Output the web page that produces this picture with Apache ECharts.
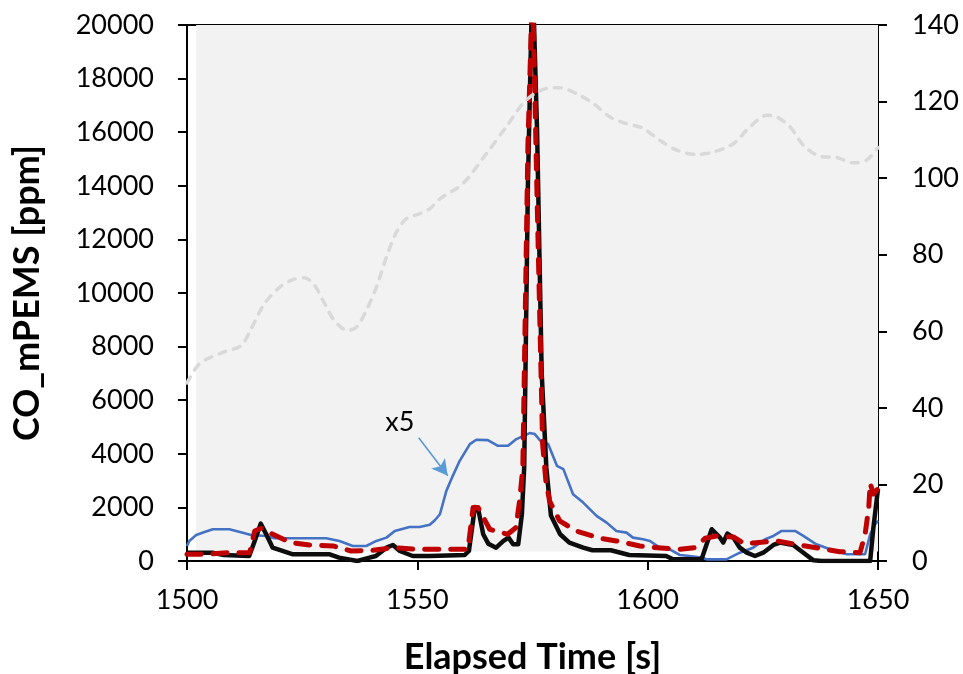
<!DOCTYPE html>
<html>
<head>
<meta charset="utf-8">
<script src="https://cdn.jsdelivr.net/npm/echarts@6/dist/echarts.min.js"></script>
<style>html,body{margin:0;padding:0;background:#fff}#c{width:963px;height:674px}</style>
</head>
<body>
<div id="c"></div>
<script>
// ---- data ----
const blackTimes = [1500,1505.5,1508,1513.5,1514.7,1516,1517.2,1518.6,1523,1531,1533,1537,1539,1541,1543.3,1544.7,1546.2,1549,1552.7,1560.3,1561.2,1562.5,1563.3,1564.3,1565.4,1567.1,1568.7,1569.8,1570.8,1571.9,1572.7,1573.2,1574,1575,1576,1577,1578,1579,1581,1583,1586,1588,1592,1596,1604,1605.5,1611.7,1612.8,1613.9,1615.7,1616.4,1617.3,1618.6,1620,1621.5,1623.3,1625.1,1627.3,1628.7,1631.6,1633.8,1636,1637.8,1648.3,1649,1650];
const blackValues = [310,310,224,187,748,1395,997,497,250,250,125,0,100,187,497,598,374,187,187,224,374,2018,1869,997,648,497,748,872,623,623,1745,3500,14000,22000,16000,7000,3500,1700,997,685,497,400,400,224,187,62,62,623,1185,872,685,1021,872,497,310,187,310,598,685,598,310,25,0,0,1245,2700];

const redTimes = [1500,1504.2,1508.9,1513.6,1514.7,1516.1,1517.9,1522.5,1526.6,1531.7,1535.6,1540.4,1544.7,1549.8,1561,1562.1,1563.2,1565.7,1569.6,1571.4,1572.2,1572.9,1574,1575,1576,1577.2,1577.9,1578.7,1580.9,1584.5,1589.6,1593.2,1598.3,1601.2,1607,1610.2,1612.5,1615,1618.6,1621,1623.6,1628,1633,1636.6,1641.7,1646.1,1647.2,1648,1648.3,1649,1650];
const redValues = [250,250,310,310,1121,1222,1058,685,598,561,374,399,497,436,436,1993,1993,1185,997,1245,2243,3487,15500,21500,13500,4362,2990,2243,1495,1121,847,748,561,510,436,497,850,935,897,650,685,748,598,497,348,310,1000,2000,2900,2500,2700];

const blueTimes = [1500,1500.5,1502,1503.8,1505.6,1509.2,1512.1,1513.9,1517.2,1519,1530.2,1533.1,1536,1538.9,1541.1,1543.3,1545.1,1548.3,1550.5,1552.7,1553.8,1554.9,1556.3,1557.7,1559.2,1561.4,1562.8,1565.3,1567.5,1569.7,1571.5,1574.4,1575.5,1577,1578.4,1580.3,1581.7,1583.8,1586,1588.9,1591.1,1593.2,1595.4,1596.8,1599,1600.5,1602.6,1604.8,1607,1609.1,1611.7,1612.8,1617.1,1620,1622.9,1625.5,1627.3,1629.1,1632,1633.8,1636.6,1639.6,1643.2,1647.2,1648.3,1649.4,1650];
const blueValues = [560,748,972,1084,1185,1185,1058,972,935,848,848,748,561,561,748,872,1121,1271,1271,1350,1520,1745,2617,3177,3738,4362,4523,4511,4299,4299,4549,4773,4736,4424,4362,3551,3428,2493,2180,1682,1432,1121,1058,872,810,748,497,436,224,187,125,62,62,310,497,810,935,1121,1121,935,623,436,250,250,997,1371,1500];

const speedTimes = [1500,1502.7,1507.8,1511.8,1513.9,1516.8,1520.1,1523,1525.5,1527.7,1529.9,1532,1534.9,1536.8,1538.9,1541.1,1543.3,1545.3,1547.6,1550.5,1552.7,1554.9,1559.9,1565,1569.3,1572.9,1575.5,1578,1580.9,1584.5,1588.2,1591.8,1594.7,1599,1602.6,1606.3,1610.6,1614.2,1618.6,1622.2,1625.8,1628,1630.9,1633.8,1637.4,1641,1644.6,1647.5,1650];
const speedValues = [46.5,51.5,54.5,56.3,60.6,67.2,71.5,73.5,74.0,72.0,67.2,62.8,60.2,61.1,65.4,71.5,79.4,85.5,89.4,90.7,92.0,94.6,98.6,106.4,113.4,119.5,122.1,123.4,123.6,122.1,119.5,116.0,114.5,113.0,109.9,107.3,106.2,106.8,109.0,113.4,116.4,116.0,113.4,108.6,105.7,105.4,104.0,104.7,108];

const shadeTimes = [1502, 1650];
const shadeValues = [355, 20000];
const arrowTimes = [1550.3, 1556.6];
const arrowValues = [4598, 3177];
const noteTime = 1546.2, noteValue = 5160, noteText = 'x5';

const xTitle = 'Elapsed Time [s]';
const yTitle = 'CO_mPEMS [ppm]';

function pairs(t, v){ return t.map((x,i)=>[x, v[i]]); }

const FONT = 'Lato';
const chart = echarts.init(document.getElementById('c'), null, {renderer:'canvas'});
chart.setOption({
  animation:false,
  grid:{left:187, right:85, top:25, bottom:113, show:true, borderColor:'#000', borderWidth:2, backgroundColor:'transparent',
    containLabel:false, outerBoundsMode:'none'},
  xAxis:{type:'value', min:1500, max:1650, interval:50,
    name:xTitle, nameLocation:'middle', nameGap:78,
    nameTextStyle:{fontFamily:FONT, fontWeight:'bold', fontSize:36, color:'#000'},
    axisLine:{lineStyle:{color:'#000', width:2}},
    axisTick:{show:true, length:9, lineStyle:{color:'#000', width:2}},
    axisLabel:{margin:26, fontFamily:FONT, fontSize:27, color:'#000', formatter:v=>String(v)},
    splitLine:{show:false}},
  yAxis:[
    {type:'value', position:'left', min:0, max:20000, interval:2000,
      name:yTitle, nameLocation:'middle', nameGap:142,
      nameTextStyle:{fontFamily:FONT, fontWeight:'bold', fontSize:36, color:'#000'},
      axisLine:{show:true, lineStyle:{color:'#000', width:2}},
      axisTick:{show:true, length:9, lineStyle:{color:'#000', width:2}},
      axisLabel:{margin:33, fontFamily:FONT, fontSize:27, color:'#000', formatter:v=>String(v)},
      splitLine:{show:false}},
    {type:'value', position:'right', min:0, max:140, interval:20,
      axisLine:{show:true, lineStyle:{color:'#000', width:2}},
      axisTick:{show:true, length:9, lineStyle:{color:'#000', width:2}},
      axisLabel:{margin:34, fontFamily:FONT, fontSize:27, color:'#000', formatter:v=>String(v)},
      splitLine:{show:false}}
  ],
  series:[
    {type:'line', name:'shade', data:[], z:-1, silent:true,
      markArea:{silent:true, itemStyle:{color:'#f2f2f2'},
        data:[[{coord:[shadeTimes[0], shadeValues[0]]},{coord:[shadeTimes[1], shadeValues[1]]}]]}},
    {type:'line', name:'x5', yAxisIndex:0, data:pairs(blueTimes, blueValues), showSymbol:false, symbol:'none',
      lineStyle:{color:'#4472c4', width:2.6}, z:3,
      markLine:{silent:true, symbol:['none','arrow'], symbolSize:[13,16],
        lineStyle:{color:'#5b9bd5', width:1.6, type:'solid'}, label:{show:false},
        data:[[{coord:[arrowTimes[0], arrowValues[0]]},{coord:[arrowTimes[1], arrowValues[1]]}]]},
      markPoint:{silent:true, symbol:'circle', symbolSize:0,
        data:[{coord:[noteTime, noteValue], label:{show:true, formatter:noteText, position:'inside', fontFamily:FONT, fontSize:27, color:'#000'}}]}},
    {type:'line', name:'CO_mPEMS', yAxisIndex:0, data:pairs(blackTimes, blackValues), showSymbol:false, symbol:'none',
      lineStyle:{color:'#0d0d0d', width:4.5, join:'round'}, z:4},
    {type:'line', name:'ref', yAxisIndex:0, data:pairs(redTimes, redValues), showSymbol:false, symbol:'none',
      lineStyle:{color:'#c00000', width:5, type:[14,12], cap:'round', join:'round'}, z:5},
    {type:'line', name:'speed', yAxisIndex:1, data:pairs(speedTimes, speedValues), showSymbol:false, symbol:'none', smooth:0.3,
      lineStyle:{color:'#d9d9d9', width:3.5, type:[7,8], cap:'round'}, z:6}
  ]
});
</script>
</body>
</html>
